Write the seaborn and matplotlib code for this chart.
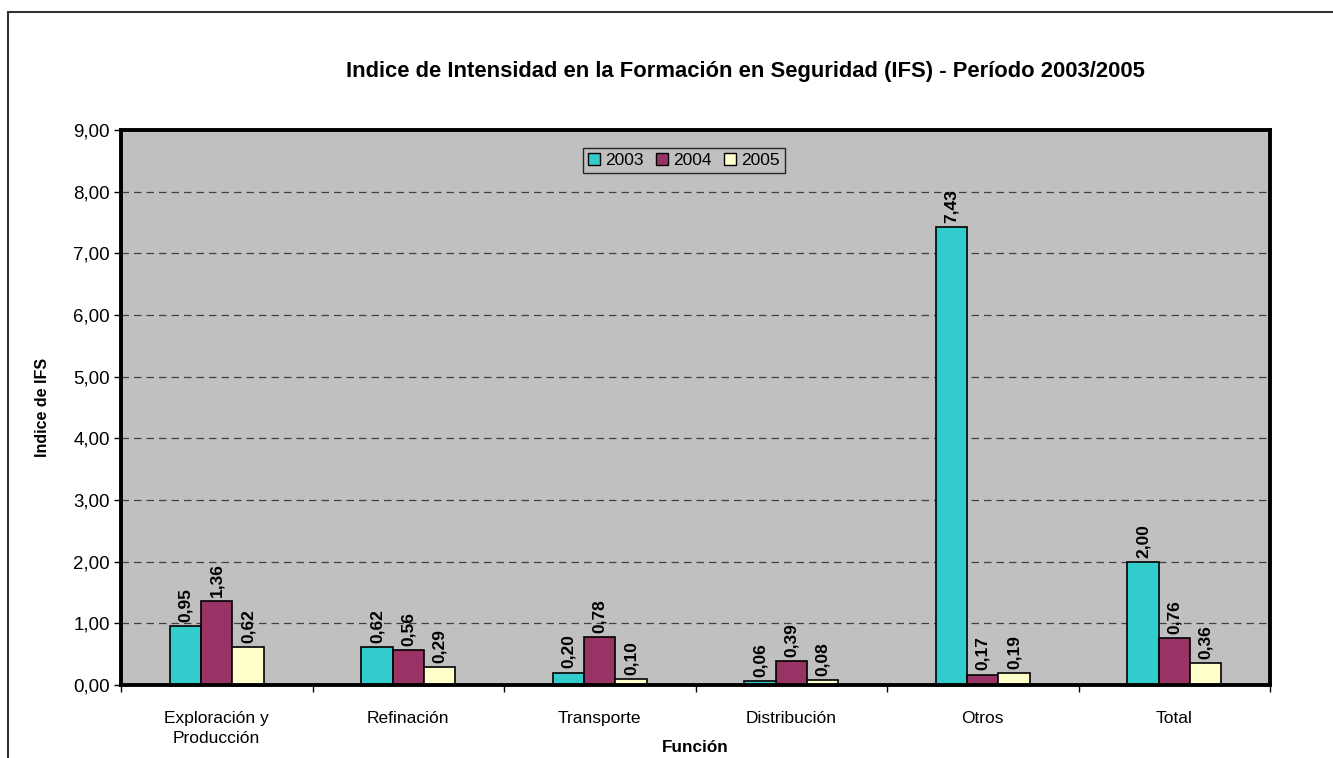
import matplotlib
matplotlib.use("Agg")
import matplotlib.pyplot as plt
import seaborn as sns
import pandas as pd
from matplotlib.patches import Rectangle

categories = ["Exploración y\nProducción", "Refinación", "Transporte", "Distribución", "Otros", "Total"]
years = ["2003", "2004", "2005"]
v2003 = [0.95, 0.62, 0.20, 0.06, 7.43, 2.00]
v2004 = [1.36, 0.56, 0.78, 0.39, 0.17, 0.76]
v2005 = [0.62, 0.29, 0.10, 0.08, 0.19, 0.36]
colors = ["#33CCCC", "#993366", "#FFFFCC"]

rows = []
for y, vals in zip(years, [v2003, v2004, v2005]):
    for c, v in zip(categories, vals):
        rows.append({"Función": c, "Año": y, "IFS": v})
df = pd.DataFrame(rows)

sns.set_style("white")
plt.rcParams["font.family"] = ["Liberation Sans", "DejaVu Sans"]
plt.rcParams["text.color"] = "black"
plt.rcParams["axes.labelcolor"] = "black"
plt.rcParams["xtick.color"] = "black"
plt.rcParams["ytick.color"] = "black"

fig = plt.figure(figsize=(13.33, 7.58), dpi=100)
ax = fig.add_axes([121/1333, 1-685/758, (1270-121)/1333, (685-130)/758])

sns.barplot(data=df, x="Función", y="IFS", hue="Año", order=categories,
            hue_order=years, palette=colors, width=0.49, edgecolor="black",
            linewidth=1.2, ax=ax, saturation=1)

ax.set_facecolor("#C0C0C0")
ax.set_ylim(0, 9)
ax.set_xlim(-0.5, len(categories) - 0.5)
ax.set_yticks(range(0, 10))
ax.set_yticklabels([f"{i:.2f}".replace(".", ",") for i in range(0, 10)], fontsize=13.5)
ax.yaxis.grid(True, linestyle=(0, (6, 4)), color="#404040", linewidth=0.9)
ax.set_axisbelow(True)
ax.tick_params(axis="y", direction="out", length=5, width=1, left=True, color="black", pad=3)
ax.tick_params(axis="x", which="major", length=0, labelsize=12.5, pad=18.5)
for t in ax.get_xticklabels():
    t.set_linespacing(1.45)
ax.set_xticks([i + 0.5 for i in range(-1, len(categories))], minor=True)
ax.tick_params(axis="x", which="minor", direction="out", length=5, width=1, bottom=True, color="black")
for s in ax.spines.values():
    s.set_linewidth(2.8)
    s.set_color("black")

for cont in ax.containers:
    labels = [f"{b.get_height():.2f}".replace(".", ",") for b in cont]
    ax.bar_label(cont, labels=labels, rotation=90, padding=3, fontsize=12.5, fontweight="bold")

ax.set_xlabel("")
fig.text(695/1333, 1-747/758, "Función", ha="center", va="center", fontsize=12.3, fontweight="bold")
ax.set_ylabel("Indice de IFS", fontsize=11.5, fontweight="bold")
ax.yaxis.set_label_coords((50-121)/1149, 0.5)

leg = ax.legend(loc="upper center", bbox_to_anchor=(684/1333, 1-139/758), bbox_transform=fig.transFigure,
                ncol=3, frameon=True, fontsize=12.5, handlelength=0.7, handleheight=0.7,
                handletextpad=0.3, columnspacing=0.7, borderpad=0.3, fancybox=False)
leg.get_frame().set_facecolor("#C0C0C0")
leg.get_frame().set_edgecolor("black")
leg.get_frame().set_linewidth(1)
for h in leg.legend_handles:
    h.set_edgecolor("black")
    h.set_linewidth(1)

fig.text(745/1333, 1-71/758, "Indice de Intensidad en la Formación en Seguridad (IFS) - Período 2003/2005",
         ha="center", va="center", fontsize=15.8, fontweight="bold")

fig.patches.append(Rectangle((8/1333, -0.1), 1.5, 1.1 - 12/758, transform=fig.transFigure,
                             fill=False, edgecolor="#333333", linewidth=1.5))

fig.savefig("out.png", dpi=100)
